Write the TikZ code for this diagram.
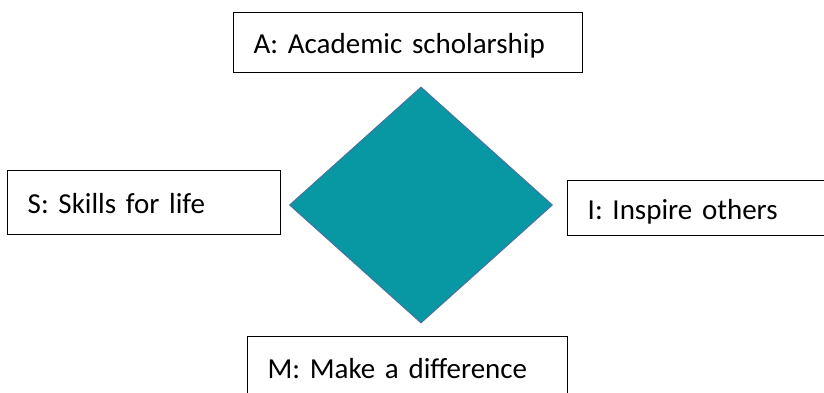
\documentclass[tikz,border=0pt]{standalone}
\usepackage{fontspec}
\setmainfont{Carlito}
\usetikzlibrary{shapes.geometric}
\definecolor{aimteal}{RGB}{8,152,163}
\definecolor{aimedge}{RGB}{68,114,160}
\tikzset{
  pillar/.style={draw, line width=1.4pt, anchor=north west, inner xsep=20pt, inner ysep=0pt,
    align=left, text height=26pt, text depth=4pt, font=\fontsize{29}{35}\selectfont},
}
\begin{document}
\begin{tikzpicture}[x=1pt,y=1pt]
			\clip (0,0) rectangle (824,-393);
			\fill[white] (0,0) rectangle (824,-393);
			\node	(core) at (421,-205) [draw=aimedge, fill=aimteal, diamond, aspect=1.11, line width=1pt, inner sep=0pt, minimum width=263pt, minimum height=236pt] {};
			\node	(a) at (233,-12) [pillar, text width=309pt, minimum height=60pt] {A: Academic scholarship};
			\node	(s) at (7,-170) [pillar, text width=233pt, minimum height=64pt] {S: Skills for life};
			\node	(i) at (567,-177) [pillar, text width=232pt, minimum height=55pt, yshift=-3pt] {I: Inspire others};
			\node	(m) at (247,-336) [pillar, text width=280pt, minimum height=62pt] {M: Make a difference};
		\end{tikzpicture}
\end{document}
